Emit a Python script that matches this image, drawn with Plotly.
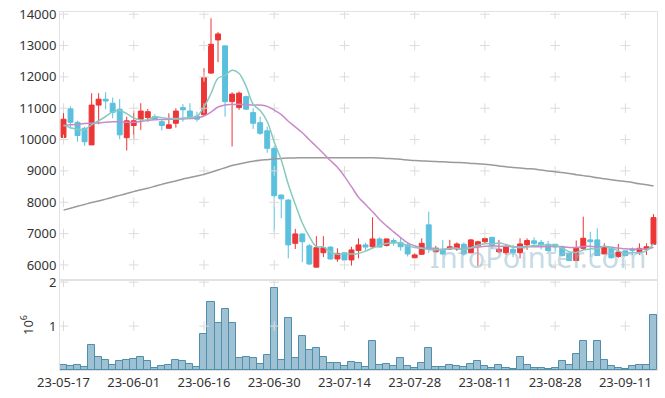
import plotly.graph_objects as go

dates = [
    "23-05-17", "23-05-18", "23-05-19", "23-05-22", "23-05-23", "23-05-24", "23-05-25", "23-05-26", "23-05-30", "23-05-31",
    "23-06-01", "23-06-02", "23-06-05", "23-06-07", "23-06-08", "23-06-09", "23-06-12", "23-06-13", "23-06-14", "23-06-15",
    "23-06-16", "23-06-19", "23-06-20", "23-06-21", "23-06-22", "23-06-23", "23-06-26", "23-06-27", "23-06-28", "23-06-29",
    "23-06-30", "23-07-03", "23-07-04", "23-07-05", "23-07-06", "23-07-07", "23-07-10", "23-07-11", "23-07-12", "23-07-13",
    "23-07-14", "23-07-17", "23-07-18", "23-07-19", "23-07-20", "23-07-21", "23-07-24", "23-07-25", "23-07-26", "23-07-27",
    "23-07-28", "23-07-31", "23-08-01", "23-08-02", "23-08-03", "23-08-04", "23-08-07", "23-08-08", "23-08-09", "23-08-10",
    "23-08-11", "23-08-14", "23-08-16", "23-08-17", "23-08-18", "23-08-21", "23-08-22", "23-08-23", "23-08-24", "23-08-25",
    "23-08-28", "23-08-29", "23-08-30", "23-08-31", "23-09-01", "23-09-04", "23-09-05", "23-09-06", "23-09-07", "23-09-08",
    "23-09-11", "23-09-12", "23-09-13", "23-09-14", "23-09-15",
]

open_ = [
    10070, 10980, 10550, 10360, 9830, 11100, 11290, 11160, 10970, 10060,
    10450, 10650, 10700, 10730, 10570, 10360, 10520, 11020, 10910, 10750,
    10790, 12120, 13180, 12990, 11210, 11020, 11370, 10860, 10540, 10280,
    9720, 8230, 8070, 6690, 6990, 6610, 5930, 6390, 6570, 6190,
    6390, 6160, 6460, 6640, 6580, 6830, 6620, 6780, 6720, 6640,
    6230, 6340, 7280, 6420, 6500, 6510, 6510, 6660, 6390, 6610,
    6740, 6880, 6420, 6390, 6500, 6390, 6640, 6770, 6720, 6660,
    6660, 6580, 6370, 6140, 6530, 6800, 6800, 6350, 6570, 6270,
    6450, 6510, 6420, 6500, 6660,
]
high = [
    10950, 11060, 10600, 10410, 11480, 11480, 11510, 11340, 11290, 10730,
    10910, 11160, 10980, 10810, 10660, 10840, 11000, 11130, 11160, 10890,
    12280, 13870, 13430, 12990, 11510, 11530, 11400, 11000, 10730, 10410,
    9800, 8250, 8100, 7150, 7000, 6670, 6920, 6920, 6600, 6530,
    6400, 6580, 6850, 6710, 7520, 6880, 6840, 6850, 6880, 6690,
    6370, 6850, 7700, 6610, 6800, 6800, 6720, 6720, 6830, 6770,
    6880, 6900, 6800, 6640, 6640, 6850, 6850, 6880, 6800, 6770,
    6660, 6620, 6400, 6780, 7540, 7060, 7170, 6690, 6570, 6670,
    6450, 6560, 6690, 6690, 7620,
]
low = [
    9990, 10340, 9930, 9800, 9830, 10490, 10970, 10680, 10010, 9650,
    9990, 10310, 10570, 10630, 10290, 10340, 10380, 10570, 10650, 10570,
    10760, 12100, 12470, 10730, 9780, 10950, 10940, 10340, 10150, 9580,
    7060, 7490, 6210, 6510, 6090, 6000, 5930, 6250, 6180, 6100,
    6130, 5980, 6210, 6480, 6530, 6560, 6590, 6610, 6460, 6270,
    6210, 6320, 6390, 6400, 6320, 6480, 6450, 6290, 6370, 5970,
    6690, 6510, 6370, 6320, 6250, 6210, 6480, 6580, 6500, 6420,
    6420, 6270, 6120, 6140, 6480, 6250, 6300, 6350, 6200, 6230,
    6270, 6320, 6320, 6320, 6660,
]
close = [
    10650, 10550, 10130, 9930, 11100, 11290, 11230, 10870, 10150, 10600,
    10600, 10910, 10890, 10650, 10450, 10470, 10910, 10950, 10730, 10650,
    11980, 13040, 13370, 11210, 11450, 11480, 10970, 10520, 10200, 9720,
    8210, 8110, 6640, 6990, 6740, 6030, 6550, 6550, 6190, 6370,
    6160, 6480, 6640, 6570, 6830, 6570, 6830, 6710, 6580, 6350,
    6320, 6690, 6530, 6530, 6350, 6580, 6670, 6350, 6800, 6740,
    6840, 6620, 6500, 6570, 6390, 6670, 6780, 6690, 6640, 6460,
    6570, 6300, 6140, 6530, 6850, 6740, 6300, 6570, 6230, 6410,
    6300, 6460, 6530, 6580, 7510,
]

ma5 = [
    10460, 10380, 10320, 10320, 10472, 10600, 10736, 10884, 10928, 10828,
    10690, 10626, 10630, 10730, 10700, 10674, 10674, 10686, 10702, 10742,
    11044, 11470, 11954, 12050, 12210, 12110, 11696, 11126, 10924, 10578,
    9924, 9352, 8576, 7934, 7338, 6902, 6590, 6572, 6412, 6338,
    6364, 6350, 6368, 6444, 6536, 6618, 6688, 6702, 6704, 6608,
    6558, 6530, 6494, 6484, 6484, 6536, 6532, 6496, 6550, 6628,
    6680, 6670, 6700, 6654, 6584, 6550, 6582, 6620, 6634, 6648,
    6628, 6532, 6422, 6400, 6478, 6512, 6512, 6598, 6538, 6450,
    6362, 6394, 6386, 6456, 6676,
]
ma20 = [
    10440, 10470, 10490, 10510, 10520, 10530, 10550, 10570, 10570, 10550,
    10550, 10580, 10610, 10630, 10640, 10650, 10650, 10660, 10670, 10686,
    10752, 10877, 11039, 11103, 11120, 11130, 11117, 11099, 11102, 11058,
    10938, 10798, 10586, 10403, 10217, 9995, 9777, 9557, 9330, 9116,
    8825, 8497, 8161, 7929, 7698, 7452, 7245, 7055, 6874, 6705,
    6611, 6540, 6534, 6511, 6492, 6519, 6525, 6515, 6546, 6564,
    6598, 6605, 6598, 6598, 6576, 6581, 6579, 6578, 6581, 6586,
    6599, 6579, 6560, 6560, 6585, 6593, 6574, 6585, 6557, 6540,
    6513, 6505, 6507, 6507, 6563,
]
ma_long = [
    7750, 7810, 7870, 7930, 7990, 8040, 8100, 8160, 8220, 8280,
    8340, 8400, 8450, 8510, 8570, 8630, 8680, 8740, 8790, 8840,
    8890, 8960, 9030, 9100, 9170, 9220, 9270, 9310, 9340, 9360,
    9380, 9400, 9410, 9415, 9420, 9420, 9420, 9420, 9420, 9420,
    9420, 9420, 9420, 9420, 9420, 9410, 9400, 9390, 9370, 9350,
    9330, 9320, 9310, 9300, 9290, 9280, 9270, 9260, 9240, 9230,
    9210, 9190, 9160, 9130, 9110, 9090, 9070, 9060, 9030, 9000,
    8970, 8950, 8920, 8880, 8850, 8820, 8780, 8750, 8720, 8690,
    8660, 8630, 8590, 8560, 8520,
]
volume = [
    120000, 100000, 120000, 70000, 580000, 300000, 220000, 120000, 200000, 220000,
    260000, 300000, 200000, 50000, 100000, 120000, 220000, 200000, 140000, 70000,
    830000, 1560000, 1060000, 1400000, 1080000, 280000, 300000, 280000, 140000, 350000,
    1860000, 230000, 1190000, 280000, 780000, 460000, 510000, 300000, 160000, 160000,
    100000, 190000, 160000, 70000, 650000, 120000, 140000, 100000, 280000, 100000,
    50000, 160000, 490000, 70000, 70000, 120000, 100000, 70000, 140000, 210000,
    100000, 50000, 120000, 50000, 30000, 300000, 120000, 50000, 50000, 30000,
    50000, 210000, 120000, 370000, 650000, 190000, 670000, 230000, 100000, 50000,
    30000, 100000, 120000, 120000, 1250000,
]

x_tick_idx = list(range(0, len(dates), 10))
x_tick_labels = [dates[i] for i in x_tick_idx]
price_ticks = [6000, 7000, 8000, 9000, 10000, 11000, 12000, 13000, 14000]
vol_ticks = [1, 2]

FONT = "Noto Sans"
AXC = "#e2e2e2"
GRIDC = "#dcdcdc"

fig = go.Figure()

# grid crosses at tick intersections
gx, gy = [], []
for lbl in x_tick_labels:
    for t in price_ticks:
        gx.append(lbl)
        gy.append(t)
fig.add_trace(go.Scatter(
    x=gx, y=gy, mode="markers", xaxis="x", yaxis="y",
    marker=dict(symbol="cross-thin", size=7, line=dict(color=GRIDC, width=1)),
    hoverinfo="skip", showlegend=False))
vx, vy = [], []
for lbl in x_tick_labels:
    for t in vol_ticks:
        vx.append(lbl)
        vy.append(t)
fig.add_trace(go.Scatter(
    x=vx, y=vy, mode="markers", xaxis="x2", yaxis="y2",
    marker=dict(symbol="cross-thin", size=7, line=dict(color=GRIDC, width=1)),
    hoverinfo="skip", showlegend=False))

fig.add_trace(go.Candlestick(
    x=dates, open=open_, high=high, low=low, close=close,
    xaxis="x", yaxis="y",
    increasing=dict(line=dict(color="#ee3535", width=1), fillcolor="#ee3535"),
    decreasing=dict(line=dict(color="#5bc0de", width=1), fillcolor="#5bc0de"),
    whiskerwidth=0, showlegend=False))

fig.add_trace(go.Scatter(
    x=dates, y=ma_long, mode="lines", xaxis="x", yaxis="y",
    line=dict(color="#9a9a9a", width=1.5, shape="spline"), showlegend=False))
fig.add_trace(go.Scatter(
    x=dates, y=ma20, mode="lines", xaxis="x", yaxis="y",
    line=dict(color="#c98ac9", width=1.5, shape="spline"), showlegend=False))
fig.add_trace(go.Scatter(
    x=dates, y=ma5, mode="lines", xaxis="x", yaxis="y",
    line=dict(color="#86cabf", width=1.5, shape="spline"), showlegend=False))

fig.add_trace(go.Bar(
    x=dates, y=[v / 1e6 for v in volume], xaxis="x2", yaxis="y2",
    marker=dict(color="rgba(120,170,195,0.72)", line=dict(color="#4f8fab", width=1)),
    showlegend=False))

split = 0.2514

fig.update_layout(
    width=665, height=398,
    margin=dict(l=60, r=8, t=12, b=28),
    paper_bgcolor="white", plot_bgcolor="white",
    font=dict(family=FONT, size=13, color="#333333"),
    bargap=0,
    boxgap=0, boxgroupgap=0.3,
    showlegend=False,
    xaxis=dict(
        domain=[0, 1], anchor="y", type="category",
        categoryorder="array", categoryarray=dates,
        range=[-0.5, len(dates) - 0.5],
        showticklabels=False, showgrid=False, zeroline=False, ticks="",
        showline=True, linecolor=AXC, linewidth=1, mirror=True,
        rangeslider=dict(visible=False)),
    xaxis2=dict(
        domain=[0, 1], anchor="y2", type="category",
        categoryorder="array", categoryarray=dates,
        range=[-0.5, len(dates) - 0.5],
        tickmode="array", tickvals=x_tick_labels, ticktext=x_tick_labels,
        tickangle=0, tickfont=dict(size=13, color="#333333"),
        showgrid=False, zeroline=False, ticks="", automargin=False,
        showline=True, linecolor=AXC, linewidth=1, mirror=True),
    yaxis=dict(
        domain=[split, 1], anchor="x", range=[5520, 14070],
        tickmode="array", tickvals=price_ticks, ticktext=[str(t) for t in price_ticks],
        tickfont=dict(size=13, color="#333333"), automargin=False,
        showgrid=False, zeroline=False, ticks="",
        showline=True, linecolor=AXC, linewidth=1, mirror=True),
    yaxis2=dict(
        domain=[0, split], anchor="x2", range=[0, 2.05],
        tickmode="array", tickvals=vol_ticks, ticktext=["1", "2"],
        tickfont=dict(size=13, color="#333333"), automargin=False,
        title=dict(text="10<sup>6</sup>", font=dict(size=13, color="#333333"), standoff=12),
        showgrid=False, zeroline=False, ticks="",
        showline=True, linecolor=AXC, linewidth=1, mirror=True),
    annotations=[dict(
        text="InfoPointer.com", xref="paper", yref="paper",
        x=0.80, y=0.316, xanchor="center", yanchor="middle", showarrow=False,
        font=dict(family=FONT, size=29, color="rgba(150,188,205,0.55)"))],
)

# remove the browser's default 8px body margin so the figure sits at the page origin
fig.write_html(
    "out.html",
    config={"displayModeBar": False},
    post_script="document.body.style.margin='0';",
)
